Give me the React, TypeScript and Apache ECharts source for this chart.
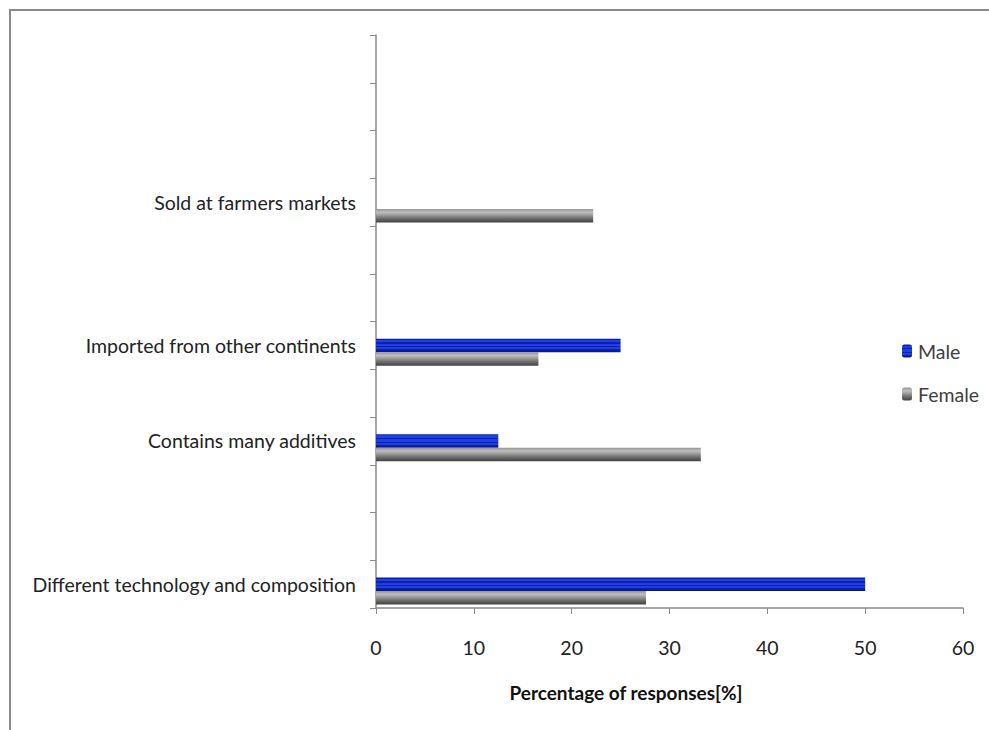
import React, { useEffect, useRef } from "react";
import * as echarts from "echarts";

// Categories listed from bottom to top (blank slots are empty categories)
const categories: string[] = [
  "Different technology and composition",
  "",
  "",
  "Contains many additives",
  "",
  "Imported from other continents",
  "",
  "",
  "Sold at farmers markets",
  "",
  "",
  "",
];

const maleValues: (number | null)[] = [50, null, null, 12.5, null, 25, null, null, null, null, null, null];
const femaleValues: (number | null)[] = [27.6, null, null, 33.2, null, 16.6, null, null, 22.2, null, null, null];
const spacerValues: (number | null)[] = categories.map(() => null);

const xTicks = { min: 0, max: 60, interval: 10 };
const axisTitle = "Percentage of responses[%]";
const FONT = "Lato, 'Open Sans', sans-serif";

const maleFill = new echarts.graphic.LinearGradient(0, 0, 0, 1, [
  { offset: 0, color: "#0a1fa8" },
  { offset: 0.1, color: "#0a1fa8" },
  { offset: 0.1, color: "#1e3fe6" },
  { offset: 0.28, color: "#1e3fe6" },
  { offset: 0.28, color: "#0b22a8" },
  { offset: 0.38, color: "#0b22a8" },
  { offset: 0.38, color: "#1e3fe6" },
  { offset: 0.55, color: "#1e3fe6" },
  { offset: 0.55, color: "#0b22a8" },
  { offset: 0.65, color: "#0b22a8" },
  { offset: 0.65, color: "#1e3fe6" },
  { offset: 0.8, color: "#1e3fe6" },
  { offset: 0.8, color: "#0b22a8" },
  { offset: 1, color: "#07188a" },
]);

const femaleFill = new echarts.graphic.LinearGradient(0, 0, 0, 1, [
  { offset: 0, color: "#959595" },
  { offset: 0.25, color: "#bdbdbd" },
  { offset: 0.45, color: "#9e9e9e" },
  { offset: 0.7, color: "#6e6e6e" },
  { offset: 1, color: "#424242" },
]);

export default function App() {
  const ref = useRef<HTMLDivElement>(null);
  useEffect(() => {
    if (!ref.current) return;
    const chart = echarts.init(ref.current, null, { renderer: "svg" });
    chart.setOption({
      animation: false,
      backgroundColor: "#ffffff",
      textStyle: { fontFamily: FONT },
      graphic: [
        {
          type: "rect",
          shape: { x: 10, y: 10, width: 1100, height: 800 },
          style: { fill: "none", stroke: "#8a8a8a", lineWidth: 2 },
          silent: true,
        },
        {
          type: "text",
          x: 626,
          y: 692,
          style: {
            text: axisTitle,
            fontSize: 19,
            fontWeight: "bold",
            fill: "#111",
            fontFamily: FONT,
            textAlign: "center",
            textVerticalAlign: "middle",
          },
          silent: true,
        },
      ],
      legend: {
        orient: "vertical",
        left: 897,
        top: 336,
        itemWidth: 10,
        itemHeight: 13,
        itemGap: 23,
        data: ["Male", "Female"],
        textStyle: { fontSize: 19.5, color: "#404040", fontFamily: FONT, padding: [0, 0, 0, 1] },
      },
      grid: { left: 376, right: 26, top: 35, bottom: 122, containLabel: false },
      xAxis: {
        type: "value",
        min: xTicks.min,
        max: xTicks.max,
        interval: xTicks.interval,
        axisLine: { show: true, lineStyle: { color: "#8a8a8a", width: 1.5 } },
        axisTick: { show: true, length: 6, lineStyle: { color: "#8a8a8a" } },
        axisLabel: { fontSize: 19.5, color: "#222", margin: 29, fontFamily: FONT },
        splitLine: { show: false },
      },
      yAxis: {
        type: "category",
        data: categories,
        axisLine: { show: true, lineStyle: { color: "#8a8a8a", width: 1.5 } },
        axisTick: { show: true, length: 6, interval: 0, lineStyle: { color: "#8a8a8a" } },
        axisLabel: { fontSize: 19.5, color: "#222", margin: 20, interval: 0, fontFamily: FONT },
        splitLine: { show: false },
      },
      series: [
        {
          name: "spacer",
          type: "bar",
          data: spacerValues,
          barWidth: 13.5,
          barGap: "0%",
          itemStyle: { color: "transparent" },
          silent: true,
        },
        {
          name: "Male",
          type: "bar",
          data: maleValues,
          barWidth: 13.5,
          barGap: "0%",
          itemStyle: { color: maleFill },
        },
        {
          name: "Female",
          type: "bar",
          data: femaleValues,
          barWidth: 13.5,
          barGap: "0%",
          itemStyle: { color: femaleFill },
        },
      ],
    });
    return () => chart.dispose();
  }, []);
  return (
    <div
      ref={ref}
      style={{ position: "absolute", left: 0, top: 0, width: 989, height: 730 }}
    />
  );
}
